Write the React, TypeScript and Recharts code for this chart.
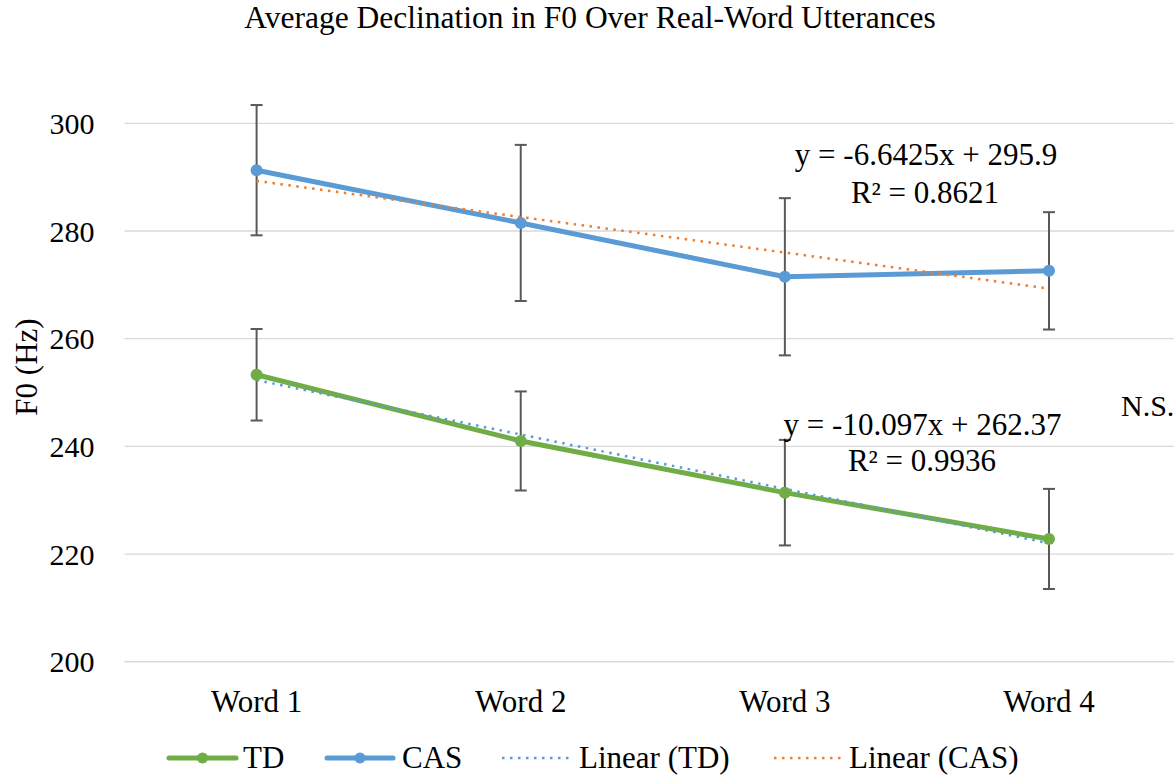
import { LineChart, Line, XAxis, YAxis, CartesianGrid, ErrorBar } from "recharts";

// values
const words = ["Word 1", "Word 2", "Word 3", "Word 4"];
const tdMeans = [253.3, 241.0, 231.4, 222.8];
const tdErrors = [8.5, 9.2, 9.8, 9.3];
const casMeans = [291.3, 281.5, 271.5, 272.6];
const casErrors = [12.1, 14.5, 14.6, 10.9];
const tdTrend = [252.3, 242.2, 232.1, 222.0];
const casTrend = [289.3, 282.6, 276.0, 269.3];
const yTicks = [200, 220, 240, 260, 280, 300];

const data = words.map((word, i) => ({
  word,
  td: tdMeans[i],
  tdErr: tdErrors[i],
  cas: casMeans[i],
  casErr: casErrors[i],
  tdTrend: tdTrend[i],
  casTrend: casTrend[i],
}));

const GREEN = "#70ad47";
const BLUE = "#5b9bd5";
const ORANGE = "#ed7d31";
const FONT = "'Liberation Serif', 'Times New Roman', serif";

const tickStyle = { fontFamily: FONT, fill: "#000" };

export default function App() {
  return (
    <div
      style={{
        position: "absolute",
        left: 0,
        top: 0,
        width: 1174,
        height: 775,
        overflow: "hidden",
        background: "#fff",
        fontFamily: FONT,
      }}
    >
      <LineChart
        width={1181}
        height={775}
        data={data}
        margin={{ top: 69.5, right: 0, bottom: 0, left: 0 }}
        style={{ fontFamily: FONT }}
      >
        <CartesianGrid
          vertical={false}
          horizontalValues={yTicks}
          stroke="#d9d9d9"
          strokeWidth={1.3}
        />
        <XAxis
          dataKey="word"
          height={113.3}
          padding={{ left: 132, right: 132 }}
          axisLine={{ stroke: "#d9d9d9", strokeWidth: 1.3 }}
          tickLine={false}
          tickSize={0}
          tickMargin={28}
          tick={{ ...tickStyle, fontSize: 31 }}
        />
        <YAxis
          width={124.6}
          domain={[200, 310]}
          ticks={yTicks}
          interval={0}
          axisLine={false}
          tickLine={false}
          tickSize={0}
          tickMargin={30}
          tick={{ ...tickStyle, fontSize: 30 }}
        />

        <Line
          dataKey="td"
          stroke={GREEN}
          strokeWidth={5}
          dot={{ r: 6, fill: GREEN, stroke: GREEN, strokeWidth: 0 }}
          activeDot={false}
          isAnimationActive={false}
        >
          <ErrorBar dataKey="tdErr" direction="y" width={6} stroke="#595959" strokeWidth={2} />
        </Line>
        <Line
          dataKey="cas"
          stroke={BLUE}
          strokeWidth={5}
          dot={{ r: 6, fill: BLUE, stroke: BLUE, strokeWidth: 0 }}
          activeDot={false}
          isAnimationActive={false}
        >
          <ErrorBar dataKey="casErr" direction="y" width={6} stroke="#595959" strokeWidth={2} />
        </Line>

        {/* linear trendlines */}
        <Line
          dataKey="tdTrend"
          stroke={BLUE}
          strokeWidth={2.5}
          strokeDasharray="2.5 5.5"
          dot={false}
          activeDot={false}
          isAnimationActive={false}
        />
        <Line
          dataKey="casTrend"
          stroke={ORANGE}
          strokeWidth={2.5}
          strokeDasharray="2.5 5.5"
          dot={false}
          activeDot={false}
          isAnimationActive={false}
        />
      </LineChart>

      {/* title, annotations and legend */}
      <svg
        width={1174}
        height={775}
        fontFamily={FONT}
        fill="#000"
        style={{ position: "absolute", left: 0, top: 0, pointerEvents: "none" }}
      >
        <text x={590} y={27.5} textAnchor="middle" fontSize={31.5}>
          Average Declination in F0 Over Real-Word Utterances
        </text>
        <text x={37} y={367} textAnchor="middle" fontSize={31} transform="rotate(-90 37 367)">
          F0 (Hz)
        </text>

        <g fontSize={31}>
          <text x={926} y={165} textAnchor="middle">y = -6.6425x + 295.9</text>
          <text x={925} y={203} textAnchor="middle">R² = 0.8621</text>
          <text x={922.5} y={435} textAnchor="middle">y = -10.097x + 262.37</text>
          <text x={922} y={471} textAnchor="middle">R² = 0.9936</text>
        </g>
        <text x={1121} y={416} fontSize={30}>N.S.</text>

        {/* legend */}
        <g fontSize={31}>
          <line x1={169} y1={758} x2={236} y2={758} stroke={GREEN} strokeWidth={5} strokeLinecap="round" />
          <circle cx={202.5} cy={758} r={5.5} fill={GREEN} />
          <text x={243} y={768}>TD</text>

          <line x1={327} y1={758} x2={393} y2={758} stroke={BLUE} strokeWidth={5} strokeLinecap="round" />
          <circle cx={360} cy={758} r={5.5} fill={BLUE} />
          <text x={402} y={768}>CAS</text>

          <line x1={502} y1={758} x2={573} y2={758} stroke={BLUE} strokeWidth={2.5} strokeDasharray="2.5 5.5" />
          <text x={579} y={768}>Linear (TD)</text>

          <line x1={774} y1={758} x2={843} y2={758} stroke={ORANGE} strokeWidth={2.5} strokeDasharray="2.5 5.5" />
          <text x={849} y={768}>Linear (CAS)</text>
        </g>
      </svg>
    </div>
  );
}
